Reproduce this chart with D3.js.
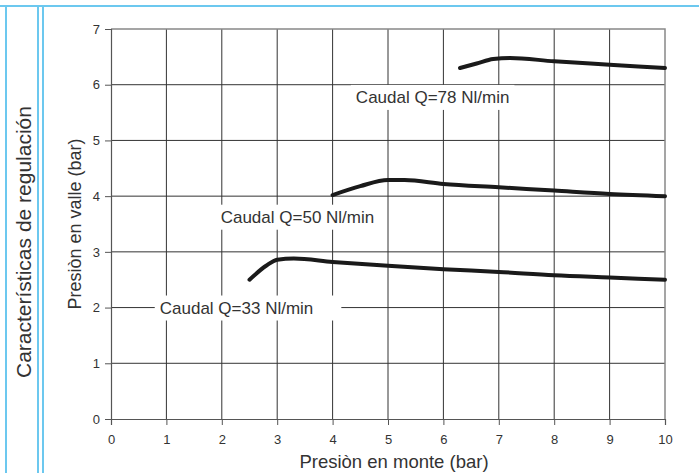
<!DOCTYPE html>
<html>
<head>
<meta charset="utf-8">
<script src="https://cdn.jsdelivr.net/npm/d3@7"></script>
<style>
  body { margin: 0; background: #fff; }
  svg text { font-family: "Liberation Sans", Arial, sans-serif; }
</style>
</head>
<body>
<div id="chart"></div>
<script>
// valores
var xTicks = [0, 1, 2, 3, 4, 5, 6, 7, 8, 9, 10];
var yTicks = [0, 1, 2, 3, 4, 5, 6, 7];

var q33 = [[2.5, 2.5], [2.8, 2.75], [3.0, 2.86], [3.3, 2.88], [4, 2.82], [5, 2.75], [6, 2.69], [7, 2.64], [8, 2.58], [9, 2.54], [10, 2.5]];
var q50 = [[4.0, 4.02], [4.5, 4.18], [5.0, 4.29], [5.3, 4.29], [6, 4.22], [7, 4.16], [8, 4.1], [9, 4.04], [10, 4.0]];
var q78 = [[6.3, 6.3], [6.6, 6.38], [6.9, 6.46], [7.2, 6.48], [8, 6.42], [9, 6.36], [10, 6.3]];

var labels = [
  { text: "Caudal Q=33 Nl/min", x: 0.88, y: 2.0 },
  { text: "Caudal Q=50 Nl/min", x: 1.98, y: 3.63 },
  { text: "Caudal Q=78 Nl/min", x: 4.42, y: 5.78 }
];
var boxPadRight = [28, 10, 5];

var width = 699, height = 473;
var margin = { top: 29, right: 34, bottom: 54, left: 111 };

var svg = d3.select("#chart").append("svg")
    .attr("width", width)
    .attr("height", height);

// marco azul
var blue = "#6cc8ef";
svg.append("line").attr("x1", 0).attr("x2", width).attr("y1", 6).attr("y2", 6)
    .attr("stroke", blue).attr("stroke-width", 2);
[6, 38, 43].forEach(function(x) {
  svg.append("line").attr("x1", x).attr("x2", x).attr("y1", 6).attr("y2", height)
      .attr("stroke", blue).attr("stroke-width", 2);
});

svg.append("text")
    .attr("transform", "translate(31,242) rotate(-90)")
    .attr("text-anchor", "middle")
    .attr("font-size", 21)
    .attr("fill", "#333")
    .text("Características de regulación");

var x = d3.scaleLinear().domain([0, 10]).range([margin.left, width - margin.right]);
var y = d3.scaleLinear().domain([0, 7]).range([height - margin.bottom, margin.top]);

// rejilla
svg.append("g").selectAll("line.v").data(xTicks.slice(1, -1)).enter().append("line")
    .attr("x1", d => x(d)).attr("x2", d => x(d))
    .attr("y1", y(0)).attr("y2", y(7))
    .attr("stroke", "#333").attr("stroke-width", 1);
svg.append("g").selectAll("line.h").data(yTicks.slice(1, -1)).enter().append("line")
    .attr("x1", x(0)).attr("x2", x(10))
    .attr("y1", d => y(d)).attr("y2", d => y(d))
    .attr("stroke", "#333").attr("stroke-width", 1);

// borde superior y derecho
svg.append("path")
    .attr("d", "M" + x(0) + "," + y(7) + "H" + x(10) + "V" + y(0))
    .attr("fill", "none").attr("stroke", "#888").attr("stroke-width", 1.5);

// ejes
var xAxis = svg.append("g")
    .attr("transform", "translate(0," + y(0) + ")")
    .call(d3.axisBottom(x).tickValues(xTicks).tickFormat(d3.format("d")).tickSize(6).tickPadding(10));
var yAxis = svg.append("g")
    .attr("transform", "translate(" + x(0) + ",0)")
    .call(d3.axisLeft(y).tickValues(yTicks).tickFormat(d3.format("d")).tickSize(6).tickPadding(5));
[xAxis, yAxis].forEach(function(g) {
  g.select(".domain").attr("stroke", "#555").attr("stroke-width", 1.2);
  g.selectAll(".tick line").attr("stroke", "#555");
  g.selectAll("text").attr("font-size", 13).attr("fill", "#333")
      .attr("font-family", "Liberation Sans, Arial, sans-serif");
});

// cajas de etiquetas
var lbl = svg.append("g").selectAll("g").data(labels).enter().append("g");
lbl.append("text")
    .attr("x", d => x(d.x))
    .attr("y", d => y(d.y))
    .attr("dy", "0.35em")
    .attr("font-size", 17)
    .attr("fill", "#333")
    .text(d => d.text);
lbl.each(function(d, i) {
  var g = d3.select(this);
  var b = g.select("text").node().getBBox();
  g.insert("rect", "text")
      .attr("x", b.x - 5).attr("y", b.y - 3)
      .attr("width", b.width + 5 + boxPadRight[i]).attr("height", b.height + 6)
      .attr("fill", "#fff");
});

// curvas
var line = d3.line().x(d => x(d[0])).y(d => y(d[1])).curve(d3.curveMonotoneX);
[q33, q50, q78].forEach(function(s) {
  svg.append("path").datum(s)
      .attr("d", line)
      .attr("fill", "none")
      .attr("stroke", "#1a1a1a")
      .attr("stroke-width", 4)
      .attr("stroke-linecap", "round");
});

// titulos
svg.append("text")
    .attr("x", (x(0) + x(10)) / 2 + 6).attr("y", 468)
    .attr("text-anchor", "middle")
    .attr("font-size", 18.5).attr("fill", "#333")
    .text("Presiòn en monte (bar)");
svg.append("text")
    .attr("transform", "translate(81," + ((y(0) + y(7)) / 2) + ") rotate(-90)")
    .attr("text-anchor", "middle")
    .attr("font-size", 18).attr("fill", "#333")
    .text("Presiòn en valle (bar)");
</script>
</body>
</html>
